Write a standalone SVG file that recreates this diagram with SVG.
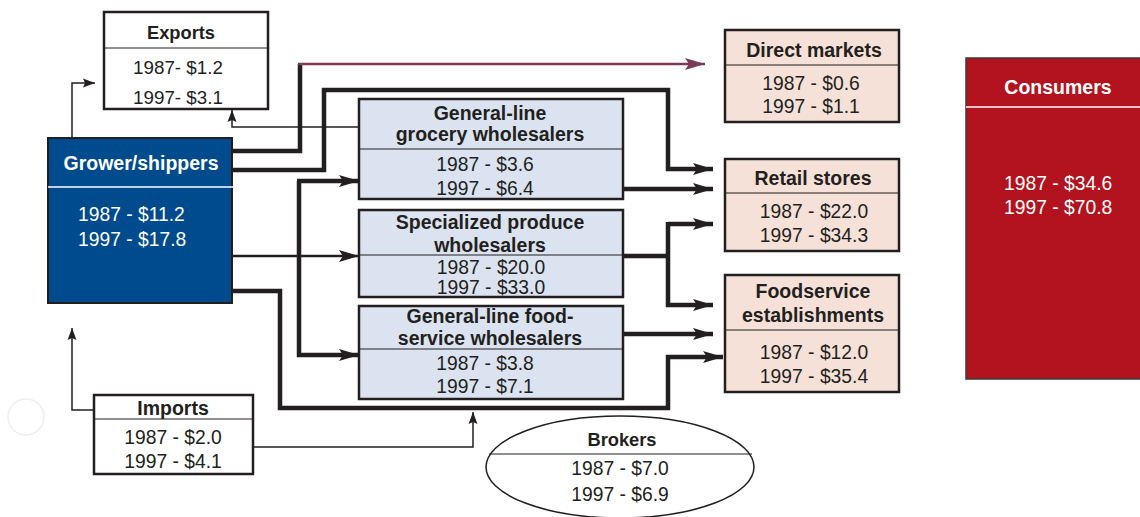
<svg xmlns="http://www.w3.org/2000/svg" width="1140" height="517" viewBox="0 0 1140 517">
<defs>
<marker id="ah" markerUnits="userSpaceOnUse" markerWidth="22" markerHeight="14" refX="20" refY="7" orient="auto"><path d="M0,1 L20,7 L0,13 L4,7 Z" fill="#231f20"/></marker>
<marker id="ahs" markerUnits="userSpaceOnUse" markerWidth="14" markerHeight="10" refX="12" refY="5" orient="auto"><path d="M0,0.5 L12,5 L0,9.5 L2,5 Z" fill="#231f20"/></marker>
<marker id="ahp" markerUnits="userSpaceOnUse" markerWidth="22" markerHeight="14" refX="20" refY="7" orient="auto"><path d="M0,1 L20,7 L0,13 L4,7 Z" fill="#7d3a55"/></marker>
</defs>
<style>
text{font-family:"Liberation Sans",Arial,sans-serif;fill:#231f20;text-anchor:middle}
.t{font-weight:bold;font-size:19.5px}
.ts{font-weight:bold;font-size:18.3px}
.v{font-size:19.3px}
.vs{font-size:18.8px}
.w{fill:#fff}
.box{stroke:#231f20;stroke-width:2.5}
.div{stroke:#231f20;stroke-width:1}
.wh{fill:#dce3f0}
.pk{fill:#f5e1d8}
.thick{fill:none;stroke:#231f20;stroke-width:4.5}
.med{fill:none;stroke:#231f20;stroke-width:2.5}
.thin{fill:none;stroke:#231f20;stroke-width:1.5}
</style>
<rect width="1140" height="517" fill="#fff"/>
<circle cx="26" cy="417" r="18" fill="none" stroke="#eeeeee" stroke-width="1.5"/>

<g id="connectors">
<path class="thin" d="M72,138 V83 H95" marker-end="url(#ahs)"/>
<path class="thin" d="M359,127 H232 V110" marker-end="url(#ahs)"/>
<path class="thick" d="M232,151 H300 V64"/>
<path fill="none" stroke="#7d3a55" stroke-width="2.5" d="M298,64 H705" marker-end="url(#ahp)"/>
<path class="thick" d="M232,170 H324 V90 H668 V169 H713" marker-end="url(#ah)"/>
<path class="thick" d="M623,189 H713" marker-end="url(#ah)"/>
<path class="thick" d="M299,181 V355 H359" marker-end="url(#ah)"/>
<path class="thick" d="M297,181 H359" marker-end="url(#ah)"/>
<path class="med" d="M232,256 H359" marker-end="url(#ah)"/>
<path class="thick" d="M620,256 H668"/>
<path class="thick" d="M668,224 H713" marker-end="url(#ah)"/>
<path class="thick" d="M668,222 V305 H713" marker-end="url(#ah)"/>
<path class="thick" d="M623,334 H713" marker-end="url(#ah)"/>
<path class="thick" d="M232,291 H280 V408 H668 V357 H723" marker-end="url(#ah)"/>
<path class="thin" d="M94,410 H72 V328" marker-end="url(#ahs)"/>
<path class="thin" d="M253,447 H473 V412" marker-end="url(#ahs)"/>
</g>

<g id="exports">
<rect class="box" x="104" y="12" width="164" height="97" fill="#fff"/>
<line class="div" x1="105" y1="48" x2="267" y2="48"/>
<text class="ts" x="181" y="39">Exports</text>
<text class="vs" x="178" y="74">1987- $1.2</text>
<text class="vs" x="178" y="104">1997- $3.1</text>
</g>

<g id="grower">
<rect x="48" y="138" width="184" height="165" fill="#004b8d" stroke="#231f20" stroke-width="2"/>
<line x1="48" y1="187" x2="233" y2="187" stroke="#fff" stroke-width="1.5"/>
<text class="t w" x="141" y="170">Grower/shippers</text>
<text class="v w" x="78" y="221" style="text-anchor:start">1987 - $11.2</text>
<text class="v w" x="78" y="246" style="text-anchor:start">1997 - $17.8</text>
</g>

<g id="grocery">
<rect class="box wh" x="359" y="99" width="264" height="100"/>
<line class="div" x1="360" y1="149" x2="622" y2="149"/>
<text class="t" x="490" y="120">General-line</text>
<text class="t" x="490" y="141">grocery wholesalers</text>
<text class="v" x="485" y="171">1987 - $3.6</text>
<text class="v" x="485" y="195">1997 - $6.4</text>
</g>

<g id="specialized">
<rect class="box wh" x="359" y="210" width="264" height="87"/>
<line class="div" x1="360" y1="255" x2="622" y2="255"/>
<text class="t" x="490" y="229">Specialized produce</text>
<text class="t" x="490" y="252">wholesalers</text>
<text class="v" x="491" y="274">1987 - $20.0</text>
<text class="v" x="491" y="294">1997 - $33.0</text>
</g>

<g id="foodservice-wholesalers">
<rect class="box wh" x="359" y="306" width="264" height="93"/>
<line class="div" x1="360" y1="349" x2="622" y2="349"/>
<text class="t" x="490" y="323">General-line food-</text>
<text class="t" x="490" y="345">service wholesalers</text>
<text class="v" x="485" y="370">1987 - $3.8</text>
<text class="v" x="485" y="393">1997 - $7.1</text>
</g>

<g id="direct-markets">
<rect class="box pk" x="725" y="30" width="174" height="92"/>
<line class="div" x1="726" y1="65" x2="898" y2="65"/>
<text class="t" x="814" y="57">Direct markets</text>
<text class="v" x="811" y="90">1987 - $0.6</text>
<text class="v" x="811" y="113">1997 - $1.1</text>
</g>

<g id="retail">
<rect class="box pk" x="725" y="159" width="174" height="92"/>
<line class="div" x1="726" y1="193" x2="898" y2="193"/>
<text class="t" x="813" y="185">Retail stores</text>
<text class="v" x="814" y="218">1987 - $22.0</text>
<text class="v" x="814" y="242">1997 - $34.3</text>
</g>

<g id="foodservice">
<rect class="box pk" x="725" y="275" width="174" height="117"/>
<line class="div" x1="726" y1="330" x2="898" y2="330"/>
<text class="t" x="813" y="298">Foodservice</text>
<text class="t" x="813" y="322">establishments</text>
<text class="v" x="814" y="359">1987 - $12.0</text>
<text class="v" x="814" y="383">1997 - $35.4</text>
</g>

<g id="consumers">
<rect x="966" y="58" width="176" height="321" fill="#b3131e" stroke="#3a3a3a" stroke-width="1.5"/>
<line x1="966" y1="107" x2="1142" y2="107" stroke="#fff" stroke-width="1.5"/>
<text class="t w" x="1058" y="94">Consumers</text>
<text class="v w" x="1004" y="190" style="text-anchor:start">1987 - $34.6</text>
<text class="v w" x="1004" y="214" style="text-anchor:start">1997 - $70.8</text>
</g>

<g id="imports">
<rect class="box" x="94" y="395" width="159" height="79" fill="#fff"/>
<line class="div" x1="95" y1="419" x2="252" y2="419"/>
<text class="t" x="173" y="415">Imports</text>
<text class="v" x="173" y="444">1987 - $2.0</text>
<text class="v" x="173" y="468">1997 - $4.1</text>
</g>

<g id="brokers">
<ellipse cx="620" cy="467" rx="134" ry="51" fill="#fff" stroke="#231f20" stroke-width="1.5"/>
<line class="div" x1="489" y1="454" x2="752" y2="454"/>
<text class="ts" x="622" y="446">Brokers</text>
<text class="v" x="620" y="475">1987 - $7.0</text>
<text class="v" x="620" y="501">1997 - $6.9</text>
</g>
</svg>
